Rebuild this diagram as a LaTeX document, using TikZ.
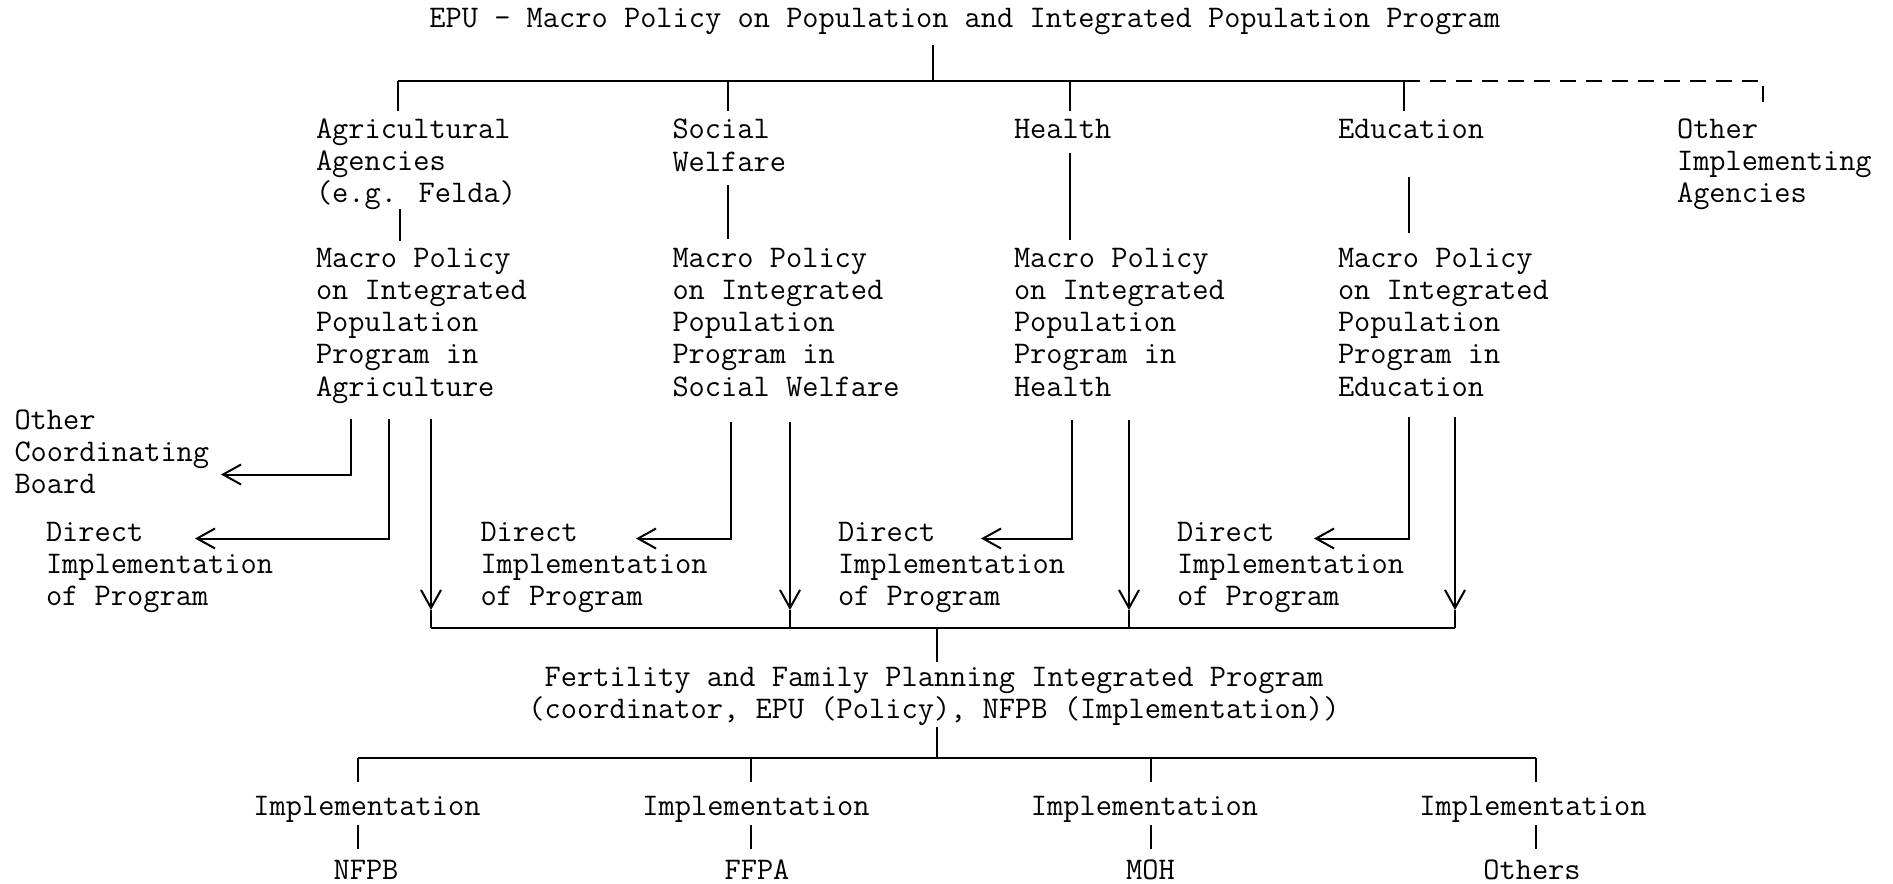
\documentclass[tikz,border=0pt]{standalone}
\usepackage{fontspec}
\setmainfont{Liberation Mono}
\usetikzlibrary{arrows.meta}
\begin{document}
\begin{tikzpicture}[x=0.5pt,y=-0.5pt,line width=1pt,
  tw/.style={inner sep=0pt,outer sep=0pt,font=\ttfamily\fontsize{15.75}{16.15}\selectfont},
  txt/.style={tw,align=left,anchor=north west},
  one/.style={tw,anchor=base},
  arr/.style={-{Straight Barb[length=9pt,width=10pt]}},
  dashline/.style={dash pattern=on 8pt off 5pt}]
\useasboundingbox (0,0) rectangle (1893,883);
% texts
\node[one] (title) at (964.7,27.4) {EPU - Macro Policy on Population and Integrated Population Program};
\node[txt] (agri) at (316,112) {\rule{0pt}{13pt}Agricultural\\Agencies\\(e.g. Felda)};
\node[txt] (soc) at (672.5,113) {\rule{0pt}{13pt}Social\\Welfare};
\node[txt] (hea) at (1014,112) {\rule{0pt}{13pt}Health};
\node[txt] (edu) at (1338,112) {\rule{0pt}{13pt}Education};
\node[txt] (oth) at (1677,112) {\rule{0pt}{13pt}Other\\Implementing\\Agencies};
\node[txt] (mA) at (316,241) {\rule{0pt}{13pt}Macro Policy\\on Integrated\\Population\\Program in\\Agriculture};
\node[txt] (mS) at (672.5,241) {\rule{0pt}{13pt}Macro Policy\\on Integrated\\Population\\Program in\\Social Welfare};
\node[txt] (mH) at (1014,241) {\rule{0pt}{13pt}Macro Policy\\on Integrated\\Population\\Program in\\Health};
\node[txt] (mE) at (1338,241) {\rule{0pt}{13pt}Macro Policy\\on Integrated\\Population\\Program in\\Education};
\node[txt] (ocb) at (14.5,403) {\rule{0pt}{13pt}Other\\Coordinating\\Board};
\node[txt] (d1) at (46,515) {\rule{0pt}{13pt}Direct\\Implementation\\of Program};
\node[txt] (d2) at (480.5,515) {\rule{0pt}{13pt}Direct\\Implementation\\of Program};
\node[txt] (d3) at (838,515) {\rule{0pt}{13pt}Direct\\Implementation\\of Program};
\node[txt] (d4) at (1177,515) {\rule{0pt}{13pt}Direct\\Implementation\\of Program};
\node[tw,align=center,anchor=north] (fert) at (934,660) {\rule{0pt}{13pt}Fertility and Family Planning Integrated Program\\(coordinator, EPU (Policy), NFPB (Implementation))};
\node[one] (i1) at (367,815) {Implementation};
\node[one] (i2) at (756,815) {Implementation};
\node[one] (i3) at (1144.5,815) {Implementation};
\node[one] (i4) at (1533,815) {Implementation};
\node[one] (o1) at (366,879) {NFPB};
\node[one] (o2) at (757,879) {FFPA};
\node[one] (o3) at (1150.5,879) {MOH};
\node[one] (o4) at (1532,879) {Others};
% top tree
\coordinate (ts) at (933,45);
\coordinate (tb) at (933,81);
\coordinate (bL) at (398,81);
\coordinate (bS) at (728,81);
\coordinate (bH) at (1070,81);
\coordinate (bR) at (1404,81);
\coordinate (bD) at (1763,81);
\coordinate (dD) at (1763,105);
\coordinate (eA) at (398,111);
\coordinate (eS) at (728,111);
\coordinate (eH) at (1070,111);
\coordinate (eE) at (1404,111);
\draw (ts) -- (tb);
\draw (bL) -- (bR);
\draw[dashline] (bR) -- (bD) -- (dD);
\draw (bL) -- (eA);
\draw (bS) -- (eS);
\draw (bH) -- (eH);
\draw (bR) -- (eE);
% middle stems
\coordinate (sA1) at (400,209); \coordinate (sA2) at (400,241);
\coordinate (sS1) at (728,185); \coordinate (sS2) at (728,239);
\coordinate (sH1) at (1070,153); \coordinate (sH2) at (1070,240);
\coordinate (sE1) at (1409,177); \coordinate (sE2) at (1409,233);
\draw (sA1) -- (sA2);
\draw (sS1) -- (sS2);
\draw (sH1) -- (sH2);
\draw (sE1) -- (sE2);
% side arrows
\coordinate (a1t) at (351,419); \coordinate (a1c) at (351,474.5); \coordinate (a1e) at (221,474.5);
\coordinate (a2t) at (389,419); \coordinate (a2c) at (389,538.5); \coordinate (a2e) at (195,538.5);
\coordinate (s1t) at (731,422); \coordinate (s1c) at (731,538.5); \coordinate (s1e) at (636,538.5);
\coordinate (h1t) at (1072,420); \coordinate (h1c) at (1072,538.5); \coordinate (h1e) at (981,538.5);
\coordinate (e1t) at (1409,417); \coordinate (e1c) at (1409,538.5); \coordinate (e1e) at (1314,538.5);
\draw[arr] (a1t) -- (a1c) -- (a1e);
\draw[arr] (a2t) -- (a2c) -- (a2e);
\draw[arr] (s1t) -- (s1c) -- (s1e);
\draw[arr] (h1t) -- (h1c) -- (h1e);
\draw[arr] (e1t) -- (e1c) -- (e1e);
% long arrows
\coordinate (a3t) at (431,419); \coordinate (a3a) at (431,610); \coordinate (a3b) at (431,628);
\coordinate (s3t) at (790,422); \coordinate (s3a) at (790,610); \coordinate (s3b) at (790,628);
\coordinate (h3t) at (1129,420); \coordinate (h3a) at (1129,610); \coordinate (h3b) at (1129,628);
\coordinate (e3t) at (1455,417); \coordinate (e3a) at (1455,610); \coordinate (e3b) at (1455,628);
\draw[arr] (a3t) -- (a3a); \draw (a3a) -- (a3b);
\draw[arr] (s3t) -- (s3a); \draw (s3a) -- (s3b);
\draw[arr] (h3t) -- (h3a); \draw (h3a) -- (h3b);
\draw[arr] (e3t) -- (e3a); \draw (e3a) -- (e3b);
\draw (a3b) -- (e3b);
\coordinate (m1) at (937,628); \coordinate (m2) at (937,662);
\draw (m1) -- (m2);
% bottom tree
\coordinate (f1) at (937,727); \coordinate (f2) at (937,758);
\draw (f1) -- (f2);
\coordinate (g1) at (358,758); \coordinate (g2) at (751,758); \coordinate (g3) at (1150.5,758); \coordinate (g4) at (1536,758);
\coordinate (k1) at (358,782); \coordinate (k2) at (751,782); \coordinate (k3) at (1150.5,782); \coordinate (k4) at (1536,782);
\draw (g1) -- (g4);
\draw (g1) -- (k1); \draw (g2) -- (k2); \draw (g3) -- (k3); \draw (g4) -- (k4);
\coordinate (l1) at (358,825); \coordinate (n1) at (358,849);
\coordinate (l2) at (751,825); \coordinate (n2) at (751,849);
\coordinate (l3) at (1150.5,825); \coordinate (n3) at (1150.5,849);
\coordinate (l4) at (1536,825); \coordinate (n4) at (1536,849);
\draw (l1) -- (n1); \draw (l2) -- (n2); \draw (l3) -- (n3); \draw (l4) -- (n4);
\end{tikzpicture}
\end{document}
